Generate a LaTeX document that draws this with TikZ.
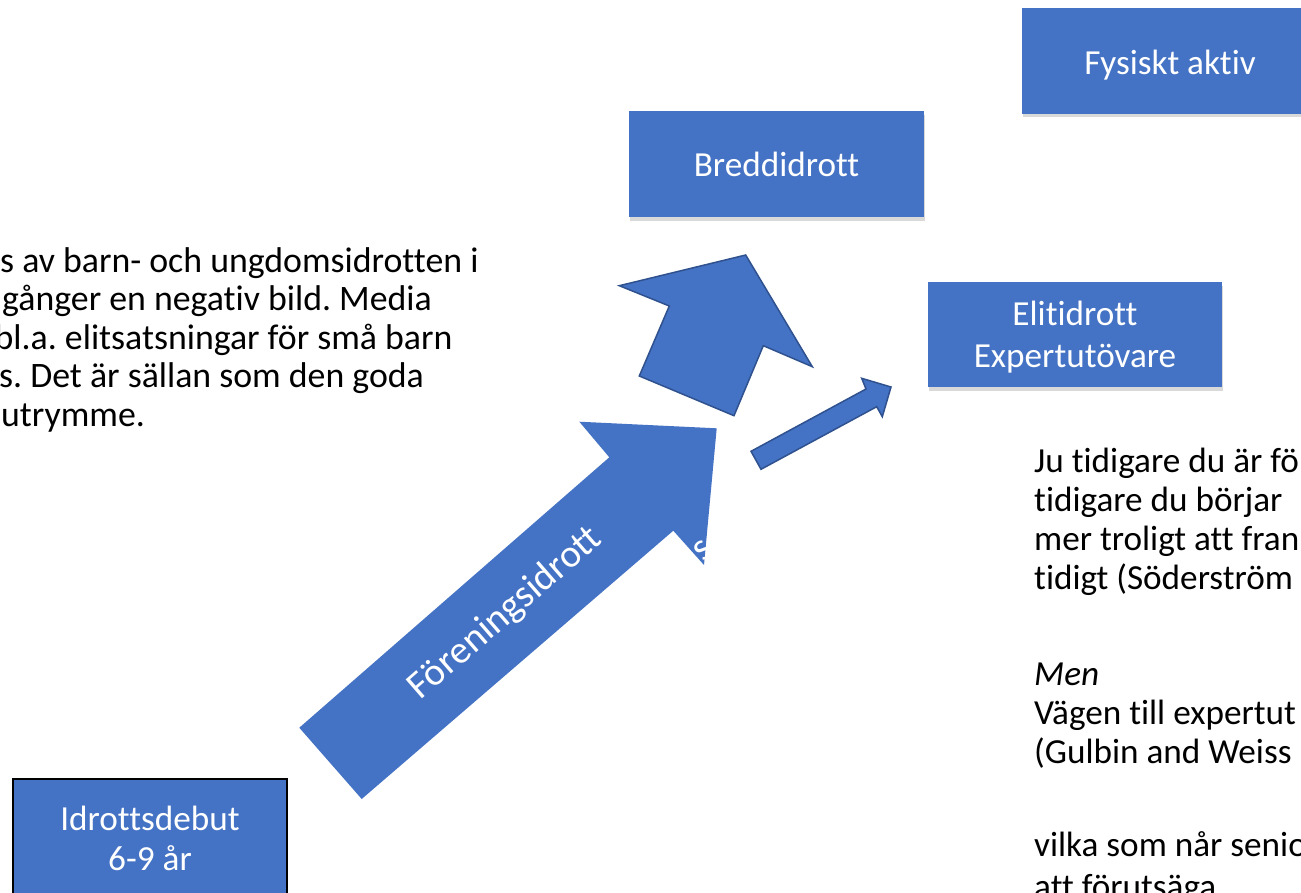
\documentclass[tikz,border=0pt]{standalone}
\usepackage{fontspec}
\setmainfont{Carlito}[Ligatures={NoCommon,NoContextual}]
\usetikzlibrary{shadows}
\definecolor{acc}{HTML}{4472C4}
\definecolor{accdark}{HTML}{2F528F}
\frenchspacing
\begin{document}
\begin{tikzpicture}[x=1pt,y=-1pt,
  bigfont/.style={font=\fontsize{35.2}{43}\selectfont},
  leftfont/.style={font=\fontsize{35.8}{43}\selectfont},
  bluebox/.style={rectangle, fill=acc, inner sep=0pt,
    drop shadow={shadow xshift=0.5pt, shadow yshift=-3.5pt, opacity=0.3}},
  blockarrow/.style={fill=acc, draw=accdark, line width=1.5pt, line join=miter},
  bodytext/.style={bigfont, text=black, inner sep=0pt, anchor=base west},
  lefttext/.style={leftfont, text=black, inner sep=0pt, anchor=base west},
  boxtext/.style={bigfont, text=white, inner sep=0pt, anchor=base},
  arrowtext/.style={font=\fontsize{39}{47}\selectfont, text=white, inner sep=0pt, rotate=41},
]
\path[use as bounding box] (0,0) rectangle (1301,892);
\clip (0,0) rectangle (1301,892);

% boxes
\node[bluebox, minimum width=296pt, minimum height=106pt] (fys) at (1170,60.5) {};
\node[boxtext] (fyst) at (1170,74) {Fysiskt aktiv};
\node[bluebox, minimum width=295pt, minimum height=106pt] (bredd) at (776.5,164) {};
\node[boxtext] (breddt) at (776.5,176) {Breddidrott};
\node[bluebox, minimum width=294pt, minimum height=105pt] (elit) at (1075,334.5) {};
\node[boxtext] (elita) at (1075,325) {Elitidrott};
\node[boxtext] (elitb) at (1075,367.5) {Expertutövare};
\node[bluebox, draw=black, line width=2.5pt, minimum width=274pt, minimum height=150pt] (debut) at (150,854) {};
\node[boxtext] (debuta) at (150,830) {Idrottsdebut};
\node[boxtext] (debutb) at (150,870) {6-9 år};

% big arrow (Föreningsidrott)
\fill[acc] (299.3,727.7) -- (609.3,457.3) -- (579.3,421.7) -- (716.7,428.3)
  -- (704,565) -- (673.3,530.7) -- (361.7,799) -- cycle;
\node[arrowtext] (foren) at (505.7,613.3) {Föreningsidrott};
\node[arrowtext] (sfrag) at (703,550) {s};

% arrow to Breddidrott
\draw[blockarrow] (619.3,285.7) -- (745.7,255) -- (812.3,366.7) -- (763.3,345.7)
  -- (734,415.7) -- (639.3,376) -- (669.3,306) -- cycle;

% arrow to Elitidrott
\draw[blockarrow] (751,451.3) -- (866,389) -- (861.7,378.3) -- (891,387)
  -- (882.3,416.7) -- (876.7,406.7) -- (761,469.3) -- cycle;

% left text
\node[lefttext] (l1) at (0,272) {s av barn- och ungdomsidrotten i};
\node[lefttext] (l2) at (2,310.5) {gånger en negativ bild. Media};
\node[lefttext] (l3) at (-5.5,349) {bl.a. elitsatsningar för små barn};
\node[lefttext] (l4) at (-1,387.5) {s. Det är sällan som den goda};
\node[lefttext] (l5) at (1,426) {utrymme.};

% right text
\node[bodytext] (r1) at (1034,472) {Ju tidigare du är fö};
\node[bodytext] (r2) at (1034,511) {tidigare du börjar};
\node[bodytext] (r3) at (1034,550) {mer troligt att fran};
\node[bodytext] (r4) at (1034,589) {tidigt (Söderström};
\node[bodytext] (r5) at (1034,685) {\itshape Men};
\node[bodytext] (r6) at (1034,724) {Vägen till expertut};
\node[bodytext] (r7) at (1034,763) {(Gulbin and Weiss};
\node[bodytext] (r8) at (1034,856) {vilka som når senio};
\node[bodytext] (r9) at (1034,898) {att förutsäga};
\end{tikzpicture}
\end{document}
